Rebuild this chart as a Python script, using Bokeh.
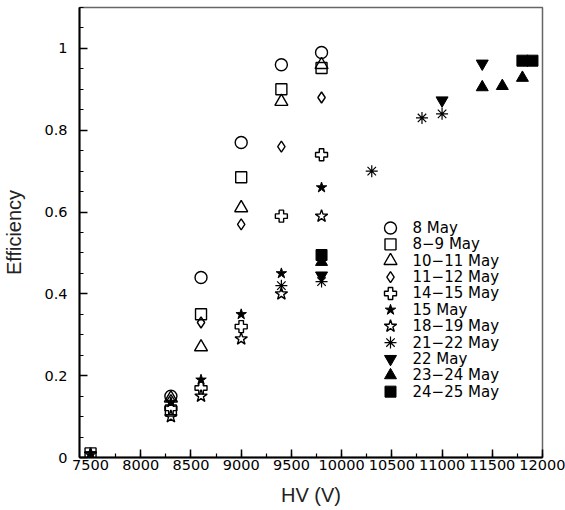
from bokeh.plotting import figure
from bokeh.models import FixedTicker, Range1d
from bokeh.core.properties import value
from bokeh.embed import file_html
from bokeh.resources import INLINE

# ---- data ----
series_labels = ["8 May", "8\u22129 May", "10\u221211 May", "11\u221212 May", "14\u221215 May",
                 "15 May", "18\u221219 May", "21\u221222 May", "22 May", "23\u221224 May", "24\u221225 May"]

hv_8may = [8300, 8600, 9000, 9400, 9800]
eff_8may = [0.15, 0.44, 0.77, 0.96, 0.99]

hv_8_9may = [7500, 8300, 8600, 9000, 9400, 9800]
eff_8_9may = [0.01, 0.115, 0.35, 0.685, 0.90, 0.952]

hv_10_11may = [8300, 8600, 9000, 9400, 9800]
eff_10_11may = [0.145, 0.27, 0.61, 0.87, 0.96]

hv_11_12may = [8300, 8600, 9000, 9400, 9800]
eff_11_12may = [0.14, 0.33, 0.57, 0.76, 0.88]

hv_14_15may = [8300, 8600, 9000, 9400, 9800]
eff_14_15may = [0.12, 0.17, 0.32, 0.59, 0.74]

hv_15may = [7500, 8300, 8600, 9000, 9400, 9800]
eff_15may = [0.01, 0.135, 0.19, 0.35, 0.45, 0.66]

hv_18_19may = [7500, 8300, 8600, 9000, 9400, 9800]
eff_18_19may = [0.008, 0.10, 0.15, 0.29, 0.40, 0.59]

hv_21_22may = [9400, 9800, 10300, 10800, 11000]
eff_21_22may = [0.42, 0.43, 0.70, 0.83, 0.84]

hv_22may = [9800, 11000, 11400]
eff_22may = [0.445, 0.873, 0.963]

hv_23_24may = [9800, 11400, 11600, 11800]
eff_23_24may = [0.478, 0.905, 0.908, 0.928]

hv_24_25may = [9800, 11800, 11900]
eff_24_25may = [0.495, 0.97, 0.97]

x_ticks = [7500, 8000, 8500, 9000, 9500, 10000, 10500, 11000, 11500, 12000]
x_tick_labels = ["7500", "8000", "8500", "9000", "9500", "10000", "10500", "11000", "11500", "12000"]
y_ticks = [0, 0.2, 0.4, 0.6, 0.8, 1.0]
y_tick_labels = ["0", "0.2", "0.4", "0.6", "0.8", "1"]

# ---- figure ----
p = figure(width=565, height=510, output_backend="svg", toolbar_location=None,
           x_range=Range1d(7390, 12000), y_range=Range1d(0, 1.1),
           min_border_left=79, min_border_right=23, min_border_top=7, min_border_bottom=53)
p.background_fill_color = "white"
p.border_fill_color = "white"
p.grid.visible = False
p.outline_line_color = "#666666"
p.outline_line_width = 1.5

# fractional frame coordinates for the hand-drawn legend
p.extra_x_ranges = {"frac": Range1d(0, 1)}
p.extra_y_ranges = {"frac": Range1d(0, 1)}

tick_font = "DejaVu Sans"
for ax in (p.xaxis[0], p.yaxis[0]):
    ax.axis_line_color = "black"
    ax.axis_line_width = 2
    ax.major_tick_in = 8
    ax.major_tick_out = 0
    ax.minor_tick_in = 4
    ax.minor_tick_out = 0
    ax.major_tick_line_width = 1.5
    ax.minor_tick_line_width = 1.2
    ax.major_label_text_font = tick_font
    ax.major_label_text_font_size = "14.5px"
    ax.major_label_text_color = "black"
    ax.axis_label_text_font = "Liberation Sans"
    ax.axis_label_text_font_size = "20px"
    ax.axis_label_text_font_style = "normal"
    ax.axis_label_text_color = "#222222"

p.xaxis[0].ticker = FixedTicker(ticks=x_ticks, minor_ticks=list(range(7500, 12001, 250)))
p.xaxis[0].major_label_overrides = {t: l for t, l in zip(x_ticks, x_tick_labels)}
p.xaxis[0].major_label_standoff = 2
p.xaxis[0].axis_label = "HV (V)"
p.xaxis[0].axis_label_standoff = 11

p.yaxis[0].ticker = FixedTicker(ticks=y_ticks, minor_ticks=[i * 0.05 for i in range(0, 23)])
p.yaxis[0].major_label_overrides = {t: l for t, l in zip(y_ticks, y_tick_labels)}
p.yaxis[0].major_label_standoff = 12
p.yaxis[0].axis_label = "Efficiency"
p.yaxis[0].axis_label_standoff = 16

lw = 1.4
styles = [
    dict(marker="circle", size=12, fill_color=None, line_color="black", line_width=lw),
    dict(marker="square", size=11, fill_color=None, line_color="black", line_width=lw),
    dict(marker="triangle", size=13, fill_color=None, line_color="black", line_width=lw),
    dict(marker="diamond", size=11, fill_color=None, line_color="black", line_width=lw),
    dict(marker="plus", size=12, fill_color=None, line_color="black", line_width=lw),
    dict(marker="star", size=11, fill_color="black", line_color="black", line_width=1),
    dict(marker="star", size=13, fill_color=None, line_color="black", line_width=lw),
    dict(marker="asterisk", size=12, line_color="black", line_width=1.2),
    dict(marker="inverted_triangle", size=12, fill_color="black", line_color="black"),
    dict(marker="triangle", size=12, fill_color="black", line_color="black"),
    dict(marker="square", size=11, fill_color="black", line_color="black"),
]
series = [(hv_8may, eff_8may), (hv_8_9may, eff_8_9may), (hv_10_11may, eff_10_11may),
          (hv_11_12may, eff_11_12may), (hv_14_15may, eff_14_15may), (hv_15may, eff_15may),
          (hv_18_19may, eff_18_19may), (hv_21_22may, eff_21_22may), (hv_22may, eff_22may),
          (hv_23_24may, eff_23_24may), (hv_24_25may, eff_24_25may)]

for (xs, ys), st in zip(series, styles):
    p.scatter(xs, ys, **st)

# legend (layout in fractions of the frame)
frame_w, frame_h = 463.0, 451.0
leg_gx = 311.0 / frame_w
leg_tx = 333.0 / frame_w
for i, (lab, st) in enumerate(zip(series_labels, styles)):
    fy = 1 - (221.0 + 16.4 * i) / frame_h
    p.scatter([leg_gx], [fy], x_range_name="frac", y_range_name="frac", **st)
    p.text(x=[leg_tx], y=[fy], text=[lab], x_range_name="frac", y_range_name="frac",
           text_font=value(tick_font), text_font_size="15px", text_color="black",
           text_align="left", text_baseline="middle")

html = file_html(p, INLINE)
open("out.html", "w").write(html)
